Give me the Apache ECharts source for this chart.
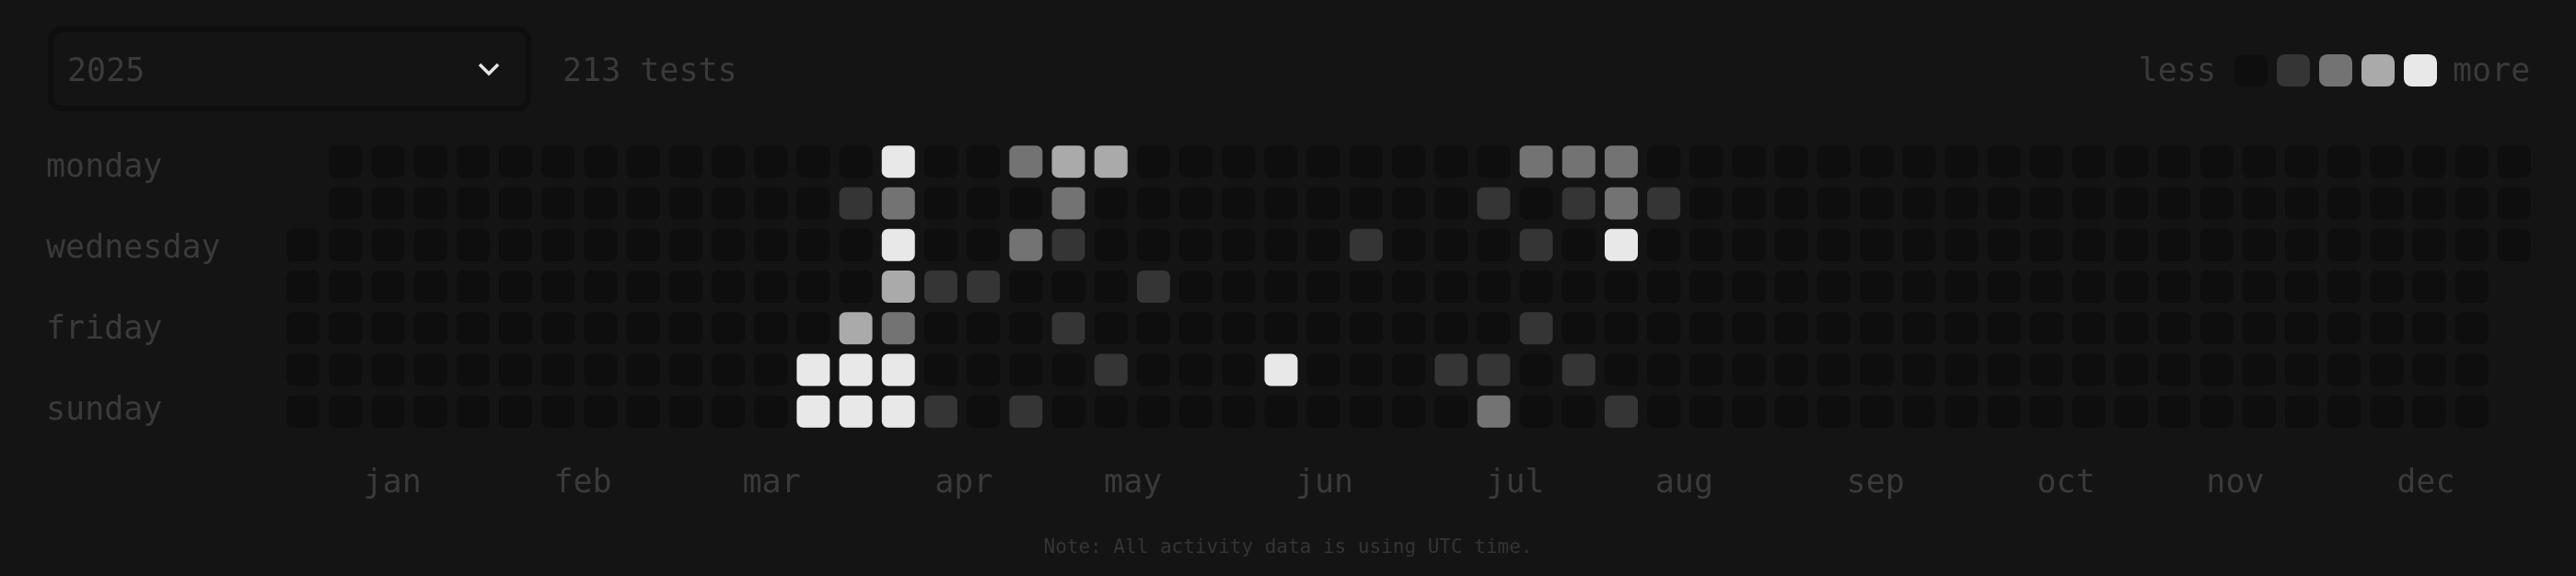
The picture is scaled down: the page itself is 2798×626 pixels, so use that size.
<!DOCTYPE html>
<html><head><meta charset="utf-8">
<script src="https://cdn.jsdelivr.net/npm/echarts@6/dist/echarts.min.js"></script>
<style>html,body{margin:0;padding:0;background:#141414;}#c{width:2798px;height:626px;}</style>
</head><body><div id="c"></div>
<script>
// ---- data ----
const year = '2025';
const activityDates = [
  '2025-03-29','2025-03-30','2025-04-01','2025-04-04','2025-04-05','2025-04-06','2025-04-07',
  '2025-04-08','2025-04-09','2025-04-10','2025-04-11','2025-04-12','2025-04-13','2025-04-17',
  '2025-04-20','2025-04-24','2025-04-28','2025-04-30','2025-05-04','2025-05-05','2025-05-06',
  '2025-05-07','2025-05-09','2025-05-12','2025-05-17','2025-05-22','2025-06-14','2025-06-25',
  '2025-07-12','2025-07-15','2025-07-19','2025-07-20','2025-07-21','2025-07-23','2025-07-25',
  '2025-07-28','2025-07-29','2025-08-02','2025-08-04','2025-08-05','2025-08-06','2025-08-10',
  '2025-08-12'
];
const activityCounts = [
  12,10,2,7,11,10,13,
  5,12,8,4,13,10,1,
  2,1,4,5,2,7,4,
  3,1,7,2,1,10,2,
  1,2,1,4,4,2,1,
  4,2,1,4,5,10,2,
  1
];
const dayLabels = ['monday','','wednesday','','friday','','sunday'];
const monthLabels = ['jan','feb','mar','apr','may','jun','jul','aug','sep','oct','nov','dec'];
const monthLabelWeeks = [2.10, 6.58, 11.02, 15.54, 19.52, 24.02, 28.51, 32.48, 36.98, 41.46, 45.44, 49.92];
const levelMins = [0, 1, 4, 7, 10];
const levelColors = ['#0e0e0e', '#353535', '#737373', '#aaaaaa', '#e8e8e8'];
const legendEnds = ['less', 'more'];

// ---- build ----
const FONT = '"DejaVu Sans Mono", monospace';
const FS = 35;
const BG = '#141414', TXT = '#3a3a3a';
const countByDate = {};
activityDates.forEach((d, i) => { countByDate[d] = activityCounts[i]; });
const yearData = [];
for (let t = Date.UTC(+year, 0, 1); t < Date.UTC(+year + 1, 0, 1); t += 86400000) {
  const d = new Date(t).toISOString().slice(0, 10);
  yearData.push([d, countByDate[d] || 0]);
}
const total = activityCounts.reduce((a, b) => a + b, 0);

const CAL = { left: 306, top: 153, cw: 46.19, ch: 45.28, weeks: 53 };
const CELL_W = 36, CELL_H = 35;
const LABEL_ROW = 44;
const GRID_TOP = 160.6;

const pieces = levelMins.map((m, i) => i < levelMins.length - 1
  ? { gte: m, lt: levelMins[i + 1], color: levelColors[i] }
  : { gte: m, color: levelColors[i] });

const chart = echarts.init(document.getElementById('c'), null, { renderer: 'canvas' });
chart.setOption({
  backgroundColor: BG,
  animation: false,
  calendar: {
    left: CAL.left, top: CAL.top, cellSize: [CAL.cw, CAL.ch],
    orient: 'horizontal', range: year,
    splitLine: { show: false },
    itemStyle: { color: 'transparent', borderWidth: 0 },
    dayLabel: { show: false, firstDay: 1 },
    monthLabel: { show: false },
    yearLabel: { show: false }
  },
  grid: { left: CAL.left, top: GRID_TOP, width: CAL.cw * CAL.weeks, height: LABEL_ROW * 7 },
  xAxis: {
    type: 'value', min: -0.5, max: CAL.weeks - 0.5,
    axisLine: { show: false }, axisTick: { show: false }, splitLine: { show: false },
    axisLabel: {
      customValues: monthLabelWeeks,
      formatter: (v, i) => { const k = monthLabelWeeks.indexOf(v); return monthLabels[k >= 0 ? k : i]; },
      margin: 57, verticalAlign: 'middle',
      color: TXT, fontFamily: FONT, fontSize: FS
    }
  },
  yAxis: {
    type: 'category', data: dayLabels, inverse: true,
    axisLine: { show: false }, axisTick: { show: false }, splitLine: { show: false },
    axisLabel: { interval: 0, align: 'left', margin: CAL.left - 50, color: TXT, fontFamily: FONT, fontSize: FS }
  },
  visualMap: {
    type: 'piecewise', seriesIndex: 0, dimension: 1, orient: 'horizontal',
    right: 136, top: 44, pieces: pieces, showLabel: false, itemGap: 10,
    itemWidth: CELL_W, itemHeight: CELL_H, itemSymbol: 'roundRect',
    selectedMode: false, hoverLink: false
  },
  graphic: [
    { type: 'rect', shape: { x: 55, y: 32, width: 519, height: 86, r: 12 },
      style: { fill: BG, stroke: '#0e0e0e', lineWidth: 6 } },
    { type: 'text', x: 73, y: 79, style: { text: year, fill: TXT, font: FS + 'px ' + FONT, verticalAlign: 'middle' } },
    { type: 'polyline', shape: { points: [[521, 70], [531, 80], [541, 70]] },
      style: { stroke: '#e6e6e6', lineWidth: 3.5, fill: null } },
    { type: 'text', x: 611, y: 79, style: { text: total + ' tests', fill: TXT, font: FS + 'px ' + FONT, verticalAlign: 'middle' } },
    { type: 'text', x: 2407, y: 79, style: { text: legendEnds[0], fill: TXT, font: FS + 'px ' + FONT, align: 'right', verticalAlign: 'middle' } },
    { type: 'text', x: 2664, y: 79, style: { text: legendEnds[1], fill: TXT, font: FS + 'px ' + FONT, align: 'left', verticalAlign: 'middle' } },
    { type: 'text', x: 1399, y: 596, style: { text: 'Note: All activity data is using UTC time.', fill: '#353535', font: '21px ' + FONT, align: 'center', verticalAlign: 'middle' } }
  ],
  series: [{
    type: 'custom', coordinateSystem: 'calendar', data: yearData,
    renderItem: (params, api) => {
      const p = api.coord([api.value(0)]);
      return { type: 'rect',
        shape: { x: p[0] - CELL_W / 2, y: p[1] - CELL_H / 2, width: CELL_W, height: CELL_H, r: 7 },
        style: { fill: api.visual('color') } };
    }
  }]
});
</script></body></html>
